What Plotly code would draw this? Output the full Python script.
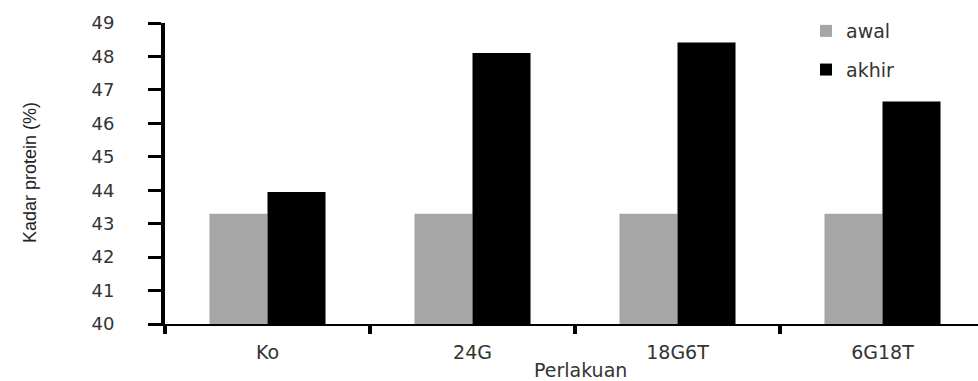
import plotly.graph_objects as go

categories = ["Ko", "24G", "18G6T", "6G18T"]
awal = [43.3, 43.3, 43.3, 43.3]
akhir = [43.95, 48.1, 48.42, 46.65]
y_ticks = [40, 41, 42, 43, 44, 45, 46, 47, 48, 49]

W, H = 978, 381
L, R, T, B = 165, 0, 23, 57
pw = W - L - R
ph = H - T - B

fig = go.Figure()
fig.add_trace(go.Bar(x=categories, y=awal, name="awal", legendgroup="a",
                     marker=dict(color="#A6A6A6", line=dict(width=0))))
fig.add_trace(go.Bar(x=categories, y=akhir, name="akhir", legendgroup="b",
                     marker=dict(color="#000000", line=dict(width=0))))

font_main = "DejaVu Sans"
fig.update_layout(
    width=W, height=H,
    margin=dict(l=L, r=R, t=T, b=B, autoexpand=False),
    paper_bgcolor="white", plot_bgcolor="white",
    barmode="group", bargap=0.434, bargroupgap=0,
    showlegend=True,
    legend=dict(x=(806 - L) / pw, y=1 + (T - 12) / ph, xanchor="left", yanchor="top",
                font=dict(family=font_main, size=19, color="#333333"),
                bgcolor="rgba(0,0,0,0)", itemwidth=30, tracegroupgap=11),
    xaxis=dict(
        range=[-0.5, -0.5 + pw / 205.0],
        showline=True, linecolor="black", linewidth=2,
        ticks="outside", tickson="boundaries", ticklen=8, tickwidth=4, tickcolor="black",
        tickfont=dict(family=font_main, size=19, color="#333333"),
        ticklabelstandoff=10,
        showgrid=False, zeroline=False, automargin=False,
    ),
    yaxis=dict(
        range=[40, 49], tickvals=y_ticks, ticktext=[str(v) for v in y_ticks],
        showline=True, linecolor="black", linewidth=4,
        ticks="outside", ticklen=13, tickwidth=3, tickcolor="black",
        tickfont=dict(family=font_main, size=18, color="#333333"),
        ticklabelstandoff=30,
        showgrid=False, zeroline=False, automargin=False,
    ),
    annotations=[
        dict(text="Kadar protein (%)", textangle=-90, xref="paper", yref="paper",
             x=(30 - L) / pw, y=(T + ph - 173) / ph, xanchor="center", yanchor="middle",
             showarrow=False, font=dict(family="Liberation Sans Narrow, Liberation Sans", size=18, color="#222222")),
        dict(text="Perlakuan", xref="paper", yref="paper",
             x=(580 - L) / pw, y=(T + ph - 370) / ph, xanchor="center", yanchor="middle",
             showarrow=False, font=dict(family=font_main, size=19, color="#333333")),
    ],
)

fig.write_html("out.html", config={"displayModeBar": False},
               post_script="document.body.style.margin='0';document.body.style.overflow='hidden';")
